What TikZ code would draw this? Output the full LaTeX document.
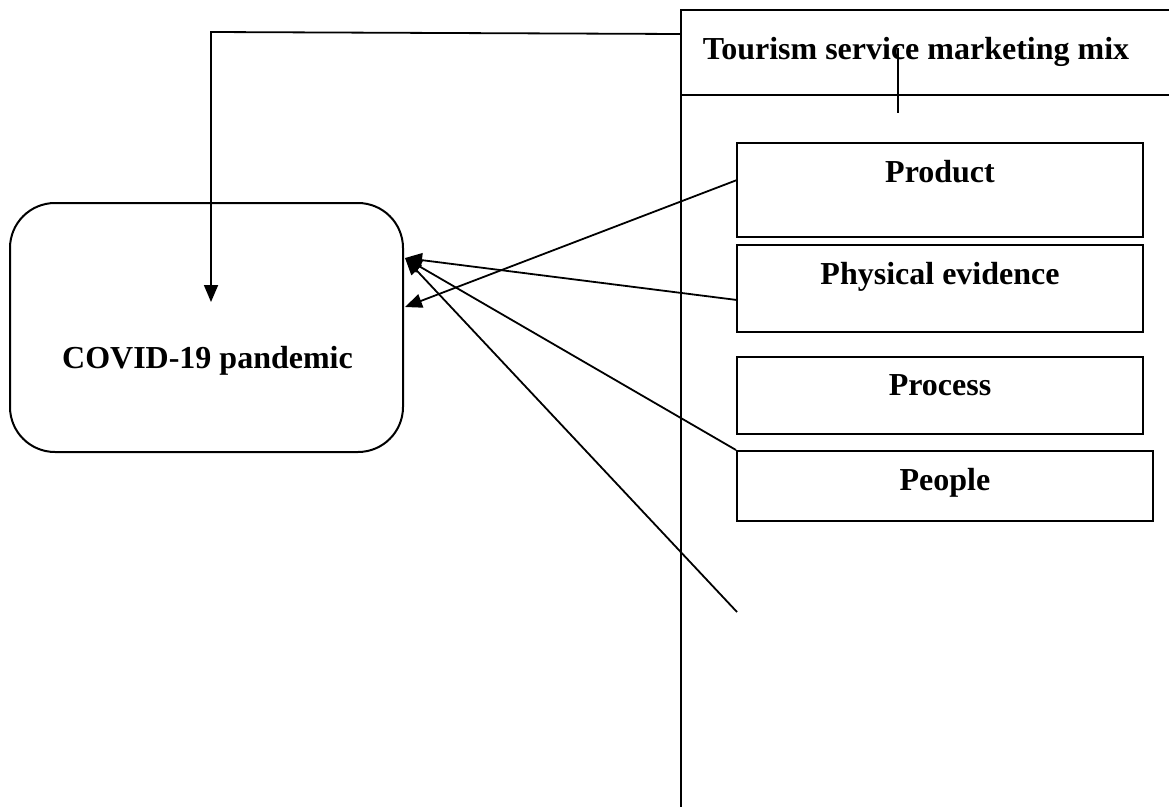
\documentclass[tikz,border=0pt]{standalone}
\usepackage{fontspec}
\setmainfont{Liberation Serif}
\usetikzlibrary{arrows.meta}
\begin{document}
\begin{tikzpicture}[x=1pt,y=-1pt,
  lbl/.style={font=\fontsize{32}{38}\selectfont\bfseries},
  frame/.style={draw, line width=2pt, inner sep=0pt},
  mixbox/.style={draw, line width=2pt, inner sep=0pt, minimum width=406pt},
  conn/.style={line width=1.8pt, -{Triangle[length=17pt,width=14pt]}},
  plain/.style={line width=1.8pt}
]
\useasboundingbox (0,0) rectangle (1169,806);
\clip (0,0) rectangle (1169,806);
\fill[white] (0,0) rectangle (1169,806);

% tourism mix frame
\node[frame, minimum width=510pt, minimum height=85pt,
  label={[lbl,anchor=base,yshift=-50pt,xshift=-20pt]north:Tourism service marketing mix}]
  (header) at (936,52.5) {};
\node[frame, minimum width=510pt, minimum height=735pt] (body) at (936,462.5) {};

% mix elements
\node[mixbox, minimum height=94pt, label={[lbl,anchor=base,yshift=-40pt]north:Product}]
  (product) at (940,190) {};
\node[mixbox, minimum height=87pt, label={[lbl,anchor=base,yshift=-40pt]north:Physical evidence}]
  (physical) at (940,288.5) {};
\node[mixbox, minimum height=77pt, label={[lbl,anchor=base,yshift=-39pt]north:Process}]
  (process) at (940,395.5) {};
\node[mixbox, minimum width=416pt, minimum height=70pt, label={[lbl,anchor=base,yshift=-40pt]north:People}]
  (people) at (945,486) {};

% COVID box
\node[draw, line width=2pt, rounded corners=45pt, minimum width=393pt, minimum height=249pt,
  inner sep=0pt] (covid) at (206.5,327.5) {};
\node[lbl, anchor=base] (covidtxt) at (207.5,368) {COVID-19 pandemic};

% coordinates
\coordinate (hdrout) at (681,34);
\coordinate (bend) at (211,32);
\coordinate (covidin) at (211,302);
\coordinate (tipA) at (405,258);
\coordinate (tipB) at (405,307);
\coordinate (prodout) at (737,180);
\coordinate (physout) at (737,300);
\coordinate (freeend) at (737,612);
\coordinate (tickA) at (898,48);
\coordinate (tickB) at (898,113);

% connectors
\draw[conn] (hdrout) -- (bend) -- (covidin);
\draw[conn] (prodout) -- (tipB);
\draw[conn] (physout) -- (tipA);
\draw[conn] (people.north west) -- (tipA);
\draw[conn] (freeend) -- (tipA);
\draw[plain] (tickA) -- (tickB);
\end{tikzpicture}
\end{document}
